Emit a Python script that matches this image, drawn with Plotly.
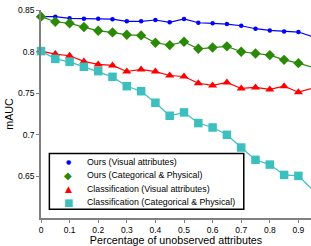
import plotly.graph_objects as go

# ---- data ----
frac_unobserved = [0.0, 0.05, 0.1, 0.15, 0.2, 0.25, 0.3, 0.35, 0.4, 0.45,
                   0.5, 0.55, 0.6, 0.65, 0.7, 0.75, 0.8, 0.85, 0.9, 0.95]
ours_visual = [0.842, 0.842, 0.840, 0.8395, 0.8395, 0.839, 0.8364, 0.8364, 0.838, 0.8352,
               0.8392, 0.8347, 0.834, 0.8331, 0.8311, 0.8275, 0.8255, 0.8243, 0.8235, 0.818]
ours_catphys = [0.842, 0.8359, 0.834, 0.8295, 0.825, 0.8231, 0.8202, 0.8195, 0.8106, 0.8078,
                0.8118, 0.8034, 0.805, 0.8063, 0.7998, 0.7978, 0.7958, 0.7901, 0.7861, 0.781]
cls_visual = [0.8006, 0.797, 0.795, 0.7882, 0.7846, 0.7834, 0.7761, 0.7786, 0.776, 0.7713,
              0.7701, 0.762, 0.7593, 0.7629, 0.7557, 0.7569, 0.7545, 0.7584, 0.7512, 0.756]
cls_catphys = [0.8006, 0.7913, 0.7877, 0.7817, 0.7765, 0.7697, 0.7584, 0.7524, 0.7385, 0.7229,
               0.7269, 0.7141, 0.7088, 0.7000, 0.6847, 0.6699, 0.6642, 0.6518, 0.6506, 0.634]

series_names = ["Ours (Visual attributes)", "Ours (Categorical & Physical)",
                "Classification (Visual attributes)", "Classification (Categorical & Physical)"]
x_tick_vals = [0, 0.1, 0.2, 0.3, 0.4, 0.5, 0.6, 0.7, 0.8, 0.9]
x_tick_text = ["0", "0.1", "0.2", "0.3", "0.4", "0.5", "0.6", "0.7", "0.8", "0.9"]
y_tick_vals = [0.65, 0.7, 0.75, 0.8, 0.85]
y_tick_text = ["0.65", "0.7", "0.75", "0.8", "0.85"]

colors = ["#0000ff", "#2a8a08", "#ff0000", "#3cbfbf"]
symbols = ["circle", "diamond", "triangle-up", "square"]
sizes = [4.5, 8, 8, 8.5]
glyphs = ["\u25CF", "\u25C6", "\u25B2", "\u25A0"]
glyph_sizes = [6, 10, 9, 10]

FONT = "Liberation Sans, Arial, Helvetica, sans-serif"

fig = go.Figure()
for vals, name, c, s, sz in zip([ours_visual, ours_catphys, cls_visual, cls_catphys],
                                series_names, colors, symbols, sizes):
    fig.add_trace(go.Scatter(
        x=frac_unobserved, y=vals, name=name, mode="lines+markers",
        line=dict(color=c, width=1.2),
        marker=dict(symbol=s, size=sz, color=c, line=dict(width=0)),
        cliponaxis=False, showlegend=False))

# custom compact legend (box + text)
shapes = [dict(type="rect", xref="paper", yref="paper",
               x0=0.031, x1=0.751, y0=0.042, y1=0.310,
               line=dict(color="black", width=1.5), fillcolor="white", layer="above")]
annotations = []
row_y = [0.2706, 0.2056, 0.1406, 0.0756]
for name, c, g, gs, ry in zip(series_names, colors, glyphs, glyph_sizes, row_y):
    annotations.append(dict(xref="paper", yref="paper", x=0.101, y=ry, text=g,
                            showarrow=False, xanchor="center", yanchor="middle",
                            font=dict(family="DejaVu Sans", size=gs, color=c)))
    annotations.append(dict(xref="paper", yref="paper", x=0.163, y=ry, text=name,
                            showarrow=False, xanchor="left", yanchor="middle",
                            font=dict(family=FONT, size=8.8, color="black")))

fig.update_layout(
    width=311, height=246,
    margin=dict(l=41, r=0, t=10, b=28),
    paper_bgcolor="white", plot_bgcolor="white",
    font=dict(family=FONT, color="black"),
    shapes=shapes, annotations=annotations,
)
fig.update_xaxes(
    range=[0, 0.944], tickvals=x_tick_vals, ticktext=x_tick_text,
    showgrid=False, zeroline=False, showline=True, linecolor="#808080", linewidth=1.5,
    ticks="outside", ticklen=3, tickcolor="#808080", tickfont=dict(size=8.5, family=FONT),
    title=dict(text="Percentage of unobserved attributes", font=dict(size=10.7, family=FONT), standoff=0),
    automargin=False)
fig.update_yaxes(
    range=[0.6, 0.85], tickvals=y_tick_vals, ticktext=y_tick_text,
    showgrid=False, zeroline=False, showline=True, linecolor="#808080", linewidth=1.5,
    ticks="outside", ticklen=3, tickcolor="#808080", tickfont=dict(size=8.5, family=FONT),
    title=dict(text="mAUC", font=dict(size=10.7, family=FONT), standoff=2),
    automargin=False)

fig.write_html("out.html", config={"displayModeBar": False},
               post_script="document.body.style.margin='0';")
